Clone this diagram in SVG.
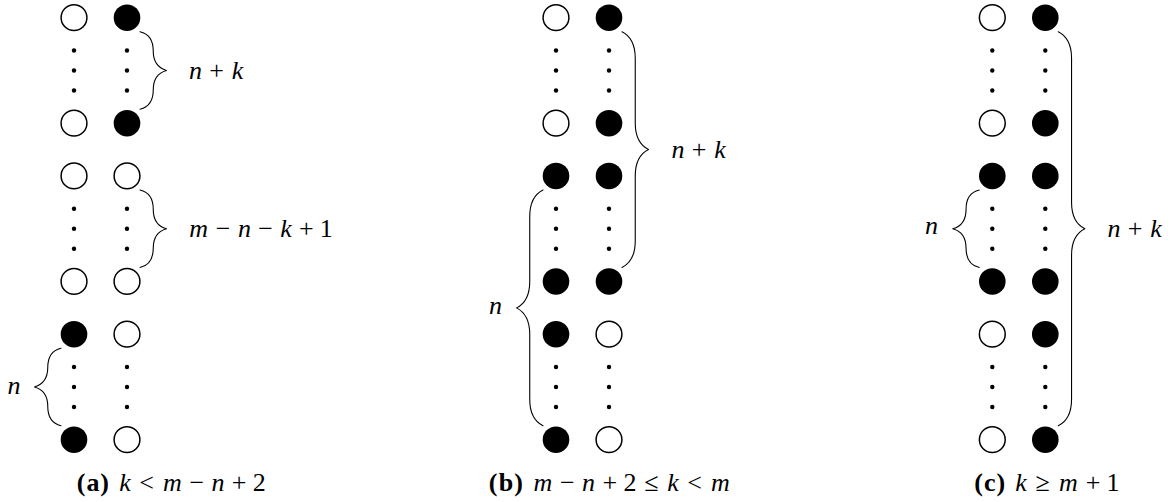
<svg xmlns="http://www.w3.org/2000/svg" xmlns:xlink="http://www.w3.org/1999/xlink" width="1173" height="502" viewBox="0 0 1173 502">
<style>
.o{fill:#fff;stroke:#000;stroke-width:1.5}
.f{fill:#000}
.d{fill:#000}
.br{fill:none;stroke:#000;stroke-width:1.1;stroke-linejoin:round;stroke-linecap:round}
text{font-family:"Liberation Serif","Times New Roman",serif;font-size:26px;fill:#000;text-anchor:middle}
.i{font-style:italic}
.b{font-weight:bold}
</style>
<defs>
<g id="vd"><circle class="d" cx="0" cy="-20" r="2.2"/><circle class="d" cx="0" cy="0" r="2.2"/><circle class="d" cx="0" cy="20" r="2.2"/></g>
<path id="bs" d="M0,0 C9,2 13.25,8 13.25,19.4 C13.25,30 18.5,36.5 26.5,38.75 C18.5,41 13.25,47.5 13.25,58.1 C13.25,69.5 9,75.5 0,77.5"/>
<path id="bm" d="M0,0 C7.95,3.975 13.25,13.25 13.25,26.5 L13.25,91.375 C13.25,104.625 18.55,113.9 26.5,117.875 C18.55,121.85 13.25,131.125 13.25,144.375 L13.25,209.25 C13.25,222.5 7.95,231.775 0,235.75"/>
<path id="bl" d="M0,0 C7.95,3.975 13.25,13.25 13.25,26.5 L13.25,170.5 C13.25,183.75 18.55,193.025 26.5,197 C18.55,200.975 13.25,210.25 13.25,223.5 L13.25,367.5 C13.25,380.75 7.95,390.025 0,394"/>
</defs>

<!-- Panel (a) -->
<g id="panel-a">
<g id="a-L0"><circle class="o" cx="74" cy="17.7" r="12.9"/></g>
<g id="a-L2"><circle class="o" cx="74" cy="123.2" r="12.9"/></g>
<g id="a-L3"><circle class="o" cx="74" cy="175.95" r="12.9"/></g>
<g id="a-L5"><circle class="o" cx="74" cy="281.45" r="12.9"/></g>
<g id="a-L6"><circle class="f" cx="74" cy="334.2" r="13.3"/></g>
<g id="a-L8"><circle class="f" cx="74" cy="439.7" r="13.3"/></g>
<g id="a-R0"><circle class="f" cx="127" cy="17.7" r="13.3"/></g>
<g id="a-R2"><circle class="f" cx="127" cy="123.2" r="13.3"/></g>
<g id="a-R3"><circle class="o" cx="127" cy="175.95" r="12.9"/></g>
<g id="a-R5"><circle class="o" cx="127" cy="281.45" r="12.9"/></g>
<g id="a-R6"><circle class="o" cx="127" cy="334.2" r="12.9"/></g>
<g id="a-R8"><circle class="o" cx="127" cy="439.7" r="12.9"/></g>
<g id="a-dots">
<use xlink:href="#vd" x="74" y="70.45"/><use xlink:href="#vd" x="74" y="228.7"/><use xlink:href="#vd" x="74" y="386.95"/>
<use xlink:href="#vd" x="127" y="70.45"/><use xlink:href="#vd" x="127" y="228.7"/><use xlink:href="#vd" x="127" y="386.95"/>
</g>
</g>

<!-- Panel (b) -->
<g id="panel-b">
<g id="b-L0"><circle class="o" cx="556" cy="17.7" r="12.9"/></g>
<g id="b-L2"><circle class="o" cx="556" cy="123.2" r="12.9"/></g>
<g id="b-L3"><circle class="f" cx="556" cy="175.95" r="13.3"/></g>
<g id="b-L5"><circle class="f" cx="556" cy="281.45" r="13.3"/></g>
<g id="b-L6"><circle class="f" cx="556" cy="334.2" r="13.3"/></g>
<g id="b-L8"><circle class="f" cx="556" cy="439.7" r="13.3"/></g>
<g id="b-R0"><circle class="f" cx="609" cy="17.7" r="13.3"/></g>
<g id="b-R2"><circle class="f" cx="609" cy="123.2" r="13.3"/></g>
<g id="b-R3"><circle class="f" cx="609" cy="175.95" r="13.3"/></g>
<g id="b-R5"><circle class="f" cx="609" cy="281.45" r="13.3"/></g>
<g id="b-R6"><circle class="o" cx="609" cy="334.2" r="12.9"/></g>
<g id="b-R8"><circle class="o" cx="609" cy="439.7" r="12.9"/></g>
<g id="b-dots">
<use xlink:href="#vd" x="556" y="70.45"/><use xlink:href="#vd" x="556" y="228.7"/><use xlink:href="#vd" x="556" y="386.95"/>
<use xlink:href="#vd" x="609" y="70.45"/><use xlink:href="#vd" x="609" y="228.7"/><use xlink:href="#vd" x="609" y="386.95"/>
</g>
</g>

<!-- Panel (c) -->
<g id="panel-c">
<g id="c-L0"><circle class="o" cx="992.3" cy="17.7" r="12.9"/></g>
<g id="c-L2"><circle class="o" cx="992.3" cy="123.2" r="12.9"/></g>
<g id="c-L3"><circle class="f" cx="992.3" cy="175.95" r="13.3"/></g>
<g id="c-L5"><circle class="f" cx="992.3" cy="281.45" r="13.3"/></g>
<g id="c-L6"><circle class="o" cx="992.3" cy="334.2" r="12.9"/></g>
<g id="c-L8"><circle class="o" cx="992.3" cy="439.7" r="12.9"/></g>
<g id="c-R0"><circle class="f" cx="1045.3" cy="17.7" r="13.3"/></g>
<g id="c-R2"><circle class="f" cx="1045.3" cy="123.2" r="13.3"/></g>
<g id="c-R3"><circle class="f" cx="1045.3" cy="175.95" r="13.3"/></g>
<g id="c-R5"><circle class="f" cx="1045.3" cy="281.45" r="13.3"/></g>
<g id="c-R6"><circle class="f" cx="1045.3" cy="334.2" r="13.3"/></g>
<g id="c-R8"><circle class="f" cx="1045.3" cy="439.7" r="13.3"/></g>
<g id="c-dots">
<use xlink:href="#vd" x="992.3" y="70.45"/><use xlink:href="#vd" x="992.3" y="228.7"/><use xlink:href="#vd" x="992.3" y="386.95"/>
<use xlink:href="#vd" x="1045.3" y="70.45"/><use xlink:href="#vd" x="1045.3" y="228.7"/><use xlink:href="#vd" x="1045.3" y="386.95"/>
</g>
</g>

<!-- Braces -->
<g id="connectors" class="br">
<use xlink:href="#bs" transform="translate(140,31.7)"/>
<use xlink:href="#bs" transform="translate(140,190)"/>
<use xlink:href="#bs" transform="translate(61,348.2) scale(-1,1)"/>
<use xlink:href="#bm" transform="translate(622,31.7)"/>
<use xlink:href="#bm" transform="translate(543,190) scale(-1,1)"/>
<use xlink:href="#bl" transform="translate(1058.3,31.7)"/>
<use xlink:href="#bs" transform="translate(979.3,190) scale(-1,1)"/>
</g>

<!-- Labels -->
<g id="labels">
<text y="78.5"><tspan class="i" x="195.5">n</tspan><tspan x="216.7">+</tspan><tspan class="i" x="237.5">k</tspan></text>
<text y="236.7"><tspan class="i" x="198.7">m</tspan><tspan x="223.2">−</tspan><tspan class="i" x="244.4">n</tspan><tspan x="265.6">−</tspan><tspan class="i" x="286">k</tspan><tspan x="306.3">+</tspan><tspan x="326.3">1</tspan></text>
<text y="394" class="i" x="14">n</text>
<text y="157.5"><tspan class="i" x="678">n</tspan><tspan x="699.2">+</tspan><tspan class="i" x="720">k</tspan></text>
<text y="313.5" class="i" x="495.5">n</text>
<text y="236.7"><tspan class="i" x="1114">n</tspan><tspan x="1135.2">+</tspan><tspan class="i" x="1156">k</tspan></text>
<text y="234.2" class="i" x="931.5">n</text>
</g>

<!-- Captions -->
<g id="captions">
<text y="491"><tspan class="b" x="81.2">(</tspan><tspan class="b" x="92.9">a</tspan><tspan class="b" x="104.6">)</tspan><tspan class="i" x="124.9">k</tspan><tspan x="146.5">&lt;</tspan><tspan class="i" x="172.3">m</tspan><tspan x="196.8">−</tspan><tspan class="i" x="218">n</tspan><tspan x="239.2">+</tspan><tspan x="259.3">2</tspan></text>
<text y="491"><tspan class="b" x="493.2">(</tspan><tspan class="b" x="505.9">b</tspan><tspan class="b" x="518.5">)</tspan><tspan class="i" x="543">m</tspan><tspan x="567.4">−</tspan><tspan class="i" x="588.6">n</tspan><tspan x="609.9">+</tspan><tspan x="629.9">2</tspan><tspan x="651.3">≤</tspan><tspan class="i" x="672.9">k</tspan><tspan x="694.5">&lt;</tspan><tspan class="i" x="720.3">m</tspan></text>
<text y="491"><tspan class="b" x="978.5">(</tspan><tspan class="b" x="989.7">c</tspan><tspan class="b" x="1000.8">)</tspan><tspan class="i" x="1021.1">k</tspan><tspan x="1042.7">≥</tspan><tspan class="i" x="1068.5">m</tspan><tspan x="1093">+</tspan><tspan x="1113">1</tspan></text>
</g>
</svg>
